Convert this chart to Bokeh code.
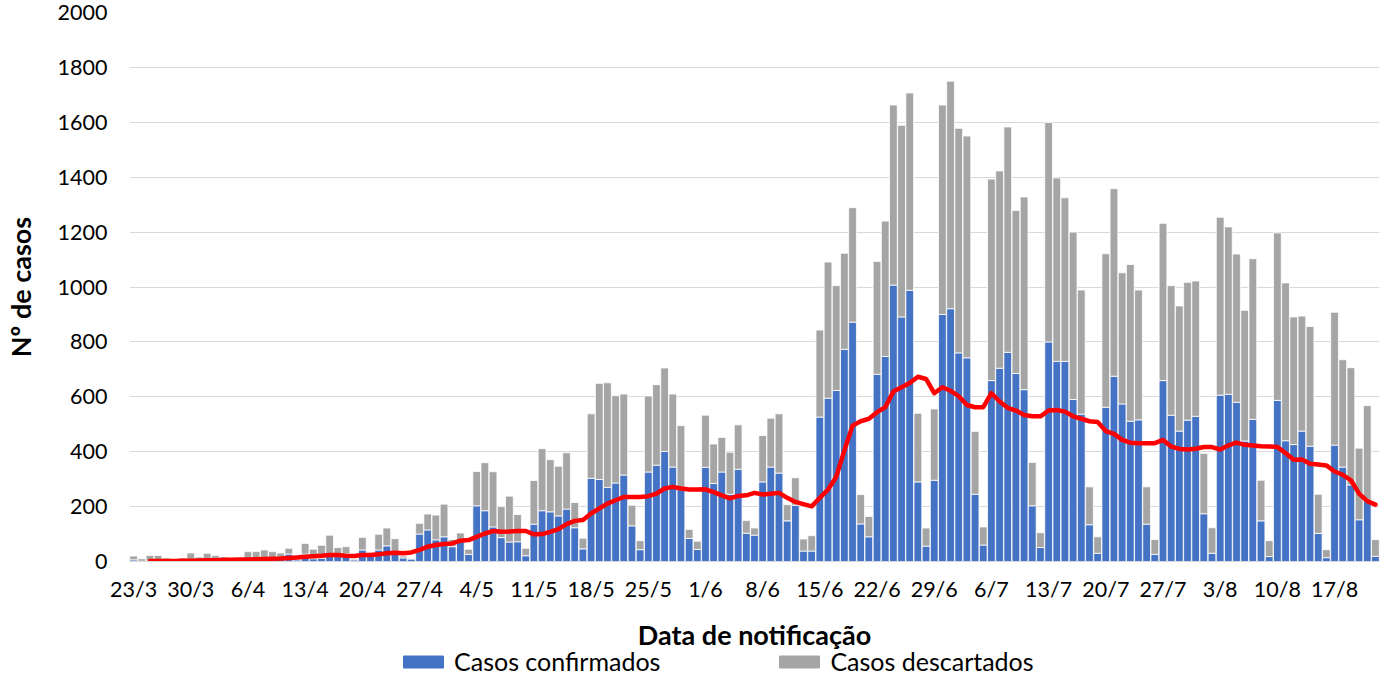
import numpy as np
from bokeh.plotting import figure
from bokeh.layouts import column
from bokeh.models import (ColumnDataSource, FixedTicker, Label, Legend,
                          LegendItem, Range1d)
from bokeh.embed import file_html
from bokeh.resources import INLINE

# Daily values, 23/3 .. 22/8
confirmados = [
    6, 1, 2, 2, 2, 1, 3, 4, 5, 6,
    6, 7, 1, 1, 9, 10, 12, 10, 11, 27,
    6, 27, 10, 12, 28, 28, 28, 6, 42, 30,
    42, 57, 28, 13, 9, 100, 115, 79, 90, 54,
    80, 26, 203, 185, 126, 87, 71, 72, 21, 136,
    185, 181, 166, 191, 123, 46, 303, 299, 270, 286,
    315, 130, 43, 326, 351, 401, 344, 266, 84, 44,
    343, 284, 326, 245, 336, 103, 96, 290, 344, 322,
    148, 205, 38, 38, 526, 595, 623, 773, 872, 137,
    90, 682, 747, 1007, 891, 988, 290, 56, 296, 900,
    921, 760, 742, 245, 60, 659, 704, 762, 685, 626,
    203, 51, 800, 729, 729, 590, 537, 134, 30, 562,
    675, 574, 511, 516, 136, 26, 659, 533, 475, 515,
    529, 174, 30, 606, 609, 580, 439, 518, 148, 18,
    587, 440, 426, 475, 420, 102, 14, 424, 344, 279,
    152, 223, 19,
]

descartados = [
    14, 9, 20, 20, 11, 3, 10, 27, 11, 24,
    16, 9, 3, 2, 27, 26, 30, 26, 20, 21,
    12, 39, 35, 47, 68, 23, 26, 4, 46, 2,
    57, 65, 55, 7, 3, 39, 58, 90, 119, 26,
    24, 19, 125, 175, 201, 113, 167, 99, 27, 159,
    226, 190, 181, 205, 92, 39, 235, 350, 381, 318,
    295, 75, 33, 277, 293, 304, 266, 229, 33, 30,
    190, 144, 126, 153, 162, 46, 26, 169, 178, 216,
    59, 100, 44, 56, 317, 496, 382, 350, 417, 107,
    74, 411, 493, 656, 698, 719, 250, 66, 260, 763,
    829, 818, 808, 229, 66, 734, 719, 821, 594, 702,
    158, 54, 799, 668, 596, 610, 452, 138, 60, 559,
    683, 478, 571, 473, 136, 54, 573, 472, 456, 502,
    493, 220, 93, 648, 610, 540, 476, 585, 148, 58,
    610, 575, 465, 419, 436, 143, 29, 484, 391, 427,
    261, 345, 61,
]

media_movel = [
    None, None, 2, 2, 2, 2, 3, 3, 4, 5,
    5, 6, 6, 7, 7, 8, 9, 10, 11, 13,
    15, 17, 19, 21, 24, 24, 21, 20, 24, 24,
    26, 30, 32, 30, 33, 42, 54, 60, 64, 66,
    76, 78, 90, 102, 111, 108, 109, 111, 111, 99,
    100, 108, 118, 136, 148, 151, 175, 193, 211, 223,
    235, 235, 235, 238, 247, 266, 272, 266, 262, 262,
    263, 253, 241, 230, 239, 241, 250, 244, 247, 250,
    232, 217, 209, 201, 232, 262, 308, 405, 495, 511,
    520, 544, 562, 619, 635, 650, 673, 665, 613, 635,
    622, 602, 570, 562, 562, 613, 583, 560, 550, 534,
    529, 529, 550, 552, 546, 529, 520, 511, 508, 475,
    465, 443, 433, 431, 431, 431, 443, 419, 410, 408,
    411, 417, 417, 408, 423, 433, 425, 423, 420, 419,
    417, 395, 371, 372, 356, 353, 350, 328, 316, 296,
    247, 220, 207,
]

tick_labels = ["23/3", "30/3", "6/4", "13/4", "20/4", "27/4", "4/5", "11/5",
               "18/5", "25/5", "1/6", "8/6", "15/6", "22/6", "29/6", "6/7",
               "13/7", "20/7", "27/7", "3/8", "10/8", "17/8"]
tick_step = 7

series_names = ["Casos confirmados", "Casos descartados"]
series_colors = ["#4472C4", "#A5A5A5"]
x_title = "Data de notificação"
y_title = "Nº de casos"

n = len(confirmados)
src = ColumnDataSource(dict(
    x=list(range(n)),
    confirmados=confirmados,
    descartados=descartados,
    mm=[np.nan if v is None else v for v in media_movel],
))

FONT = "Lato"
TXT = "#000000"
W = 1381

p = figure(width=W, height=604, output_backend="svg", toolbar_location=None,
           x_range=Range1d(-0.5, n - 0.5), y_range=Range1d(0, 2000),
           min_border_left=118, min_border_right=2, min_border_top=12,
           min_border_bottom=40)

bars = p.vbar_stack(["confirmados", "descartados"], x="x", width=0.95,
                    color=series_colors, line_color="white",
                    line_width=0.8, source=src)
p.line("x", "mm", source=src, color="#FF0000", line_width=4.5,
       line_join="round", line_cap="round")

p.outline_line_color = None
p.background_fill_color = "white"
p.xgrid.visible = False
p.ygrid.grid_line_color = "#D9D9D9"
p.ygrid.grid_line_width = 1

p.yaxis.ticker = FixedTicker(ticks=list(range(0, 2001, 200)))
p.yaxis.axis_line_color = None
p.yaxis.major_tick_line_color = None
p.yaxis.minor_tick_line_color = None
p.yaxis.major_tick_out = 0
p.yaxis.major_tick_in = 0
p.yaxis.major_label_standoff = 22
p.yaxis.major_label_text_font = FONT
p.yaxis.major_label_text_font_size = "21.5px"
p.yaxis.major_label_text_color = TXT
p.yaxis.axis_label = y_title
p.yaxis.axis_label_text_font = FONT
p.yaxis.axis_label_text_font_style = "bold"
p.yaxis.axis_label_text_font_size = "27px"
p.yaxis.axis_label_text_color = TXT
p.yaxis.axis_label_standoff = 18

p.xaxis.ticker = FixedTicker(ticks=[k * tick_step for k in range(len(tick_labels))])
p.xaxis.major_label_overrides = {k * tick_step: lab for k, lab in enumerate(tick_labels)}
p.xaxis.axis_line_color = "#D9D9D9"
p.xaxis.major_tick_line_color = None
p.xaxis.minor_tick_line_color = None
p.xaxis.major_tick_out = 0
p.xaxis.major_tick_in = 0
p.xaxis.major_label_standoff = 14
p.xaxis.major_label_text_font = FONT
p.xaxis.major_label_text_font_size = "21.5px"
p.xaxis.major_label_text_color = TXT

# Strip below the chart: x-axis title and legend (frame aligned with the chart)
lg = figure(width=W, height=72, output_backend="svg", toolbar_location=None,
            x_range=Range1d(0, 1), y_range=Range1d(0, 1),
            min_border_left=0, min_border_right=0, min_border_top=0,
            min_border_bottom=0)
lg.axis.visible = False
lg.grid.visible = False
lg.outline_line_color = None

lg.add_layout(Label(x=0.5, y=42, x_units="data", y_units="screen",
                    text=x_title, text_align="center", text_baseline="middle",
                    text_font=FONT, text_font_style="bold",
                    text_font_size="27px", text_color=TXT))

dummies = [lg.vbar(x=[-5], top=[0], width=1, color=c) for c in series_colors]
legend = Legend(items=[LegendItem(label=nm, renderers=[r])
                       for nm, r in zip(series_names, dummies)],
                orientation="horizontal", location=(269, 0),
                border_line_color=None, background_fill_alpha=0,
                label_text_font=FONT, label_text_font_size="25px",
                label_text_color=TXT, glyph_width=50, glyph_height=15,
                label_height=28, label_standoff=6, spacing=114,
                padding=0, margin=0)
lg.add_layout(legend, "center")

layout = column(p, lg, spacing=0)
open("out.html", "w").write(file_html(layout, INLINE))
